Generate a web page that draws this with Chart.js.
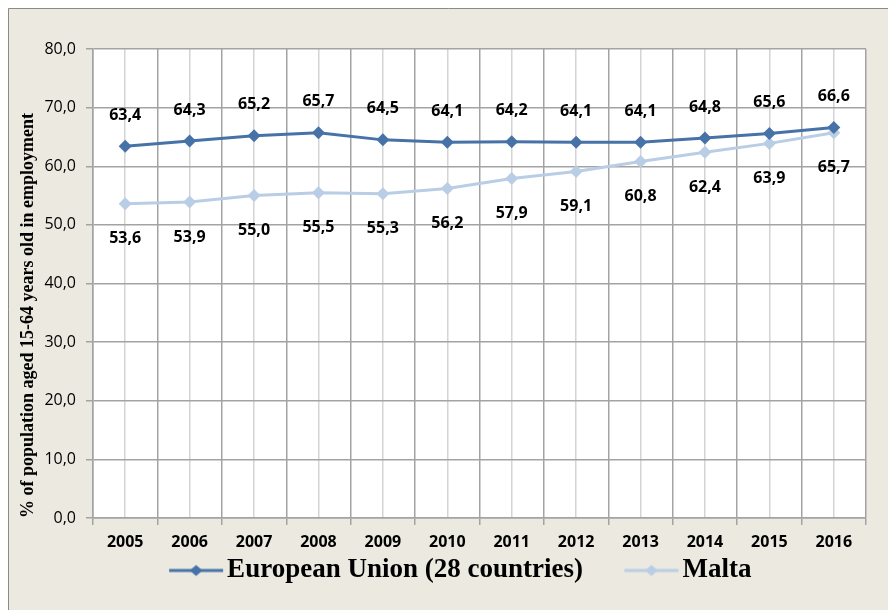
<!DOCTYPE html>
<html>
<head>
<meta charset="utf-8">
<script src="https://cdn.jsdelivr.net/npm/chart.js@4.4.0/dist/chart.umd.min.js"></script>
<style>
  html, body { margin: 0; padding: 0; background: #fff; }
  #wrap { width: 888px; height: 610px; }
</style>
</head>
<body>
<div id="wrap"><canvas id="chart" width="888" height="610"></canvas></div>
<script>
// data
const YEARS = ["2005", "2006", "2007", "2008", "2009", "2010", "2011", "2012", "2013", "2014", "2015", "2016"];
const EU_VALUES = [63.4, 64.3, 65.2, 65.7, 64.5, 64.1, 64.2, 64.1, 64.1, 64.8, 65.6, 66.6];
const MALTA_VALUES = [53.6, 53.9, 55.0, 55.5, 55.3, 56.2, 57.9, 59.1, 60.8, 62.4, 63.9, 65.7];
const Y_MIN = 0;
const Y_MAX = 80;
const Y_STEP = 10;

const EU_COLOR = "#4672A8";
const MALTA_COLOR = "#B9CDE5";
const GRID_DARK = "#a3a3a3";
const GRID_LIGHT = "#d4d4d4";

const fmt = (v) => v.toFixed(1).replace(".", ",");

// legend marker: line with a diamond, drawn in the right part of a wide canvas
// so the gap between legend items looks like Excel's
const makeMarker = (color) => {
  const c = document.createElement("canvas");
  c.width = 102;
  c.height = 16;
  const g = c.getContext("2d");
  g.strokeStyle = color;
  g.lineWidth = 3;
  g.beginPath();
  g.moveTo(47, 8);
  g.lineTo(101, 8);
  g.stroke();
  g.fillStyle = color;
  g.beginPath();
  g.moveTo(74 - 6.5, 8);
  g.lineTo(74, 2.5);
  g.lineTo(74 + 6.5, 8);
  g.lineTo(74, 13.5);
  g.closePath();
  g.fill();
  return c;
};
const MARKERS = [makeMarker(EU_COLOR), makeMarker(MALTA_COLOR)];

const backgroundPlugin = {
  id: "background",
  beforeDraw(chart) {
    const { ctx, chartArea } = chart;
    ctx.save();
    ctx.fillStyle = "#ffffff";
    ctx.fillRect(0, 0, chart.width, chart.height);
    ctx.fillStyle = "#ECE9E0";
    ctx.fillRect(8, 8, chart.width - 8, chart.height - 8);
    ctx.strokeStyle = "#8a8a8a";
    ctx.lineWidth = 1;
    ctx.beginPath();
    ctx.moveTo(8.5, chart.height);
    ctx.lineTo(8.5, 8.5);
    ctx.lineTo(chart.width, 8.5);
    ctx.stroke();
    ctx.fillStyle = "#ffffff";
    ctx.fillRect(chartArea.left, chartArea.top, chartArea.right - chartArea.left, chartArea.bottom - chartArea.top);
    ctx.restore();
  },
};

// value labels: EU above the points, Malta below
const valueLabels = {
  id: "valueLabels",
  afterDatasetsDraw(chart) {
    const { ctx } = chart;
    ctx.save();
    ctx.font = "bold 16px 'Open Sans'";
    ctx.fillStyle = "#000";
    ctx.textAlign = "center";
    ctx.textBaseline = "middle";
    chart.data.datasets.forEach((ds, di) => {
      const meta = chart.getDatasetMeta(di);
      meta.data.forEach((pt, i) => {
        const dy = di === 0 ? -31 : 35;
        ctx.fillText(fmt(ds.data[i]), pt.x, pt.y + dy);
      });
    });
    ctx.restore();
  },
};

new Chart(document.getElementById("chart"), {
  type: "line",
  data: {
    labels: YEARS,
    datasets: [
      {
        label: "European Union (28 countries)",
        data: EU_VALUES,
        borderColor: EU_COLOR,
        backgroundColor: EU_COLOR,
        borderWidth: 3,
        pointStyle: "rectRot",
        pointRadius: 6.5,
        pointBorderWidth: 0,
        tension: 0,
      },
      {
        label: "Malta",
        data: MALTA_VALUES,
        borderColor: MALTA_COLOR,
        backgroundColor: MALTA_COLOR,
        borderWidth: 3,
        pointStyle: "rectRot",
        pointRadius: 6.5,
        pointBorderWidth: 0,
        tension: 0,
      },
    ],
  },
  options: {
    responsive: false,
    animation: false,
    devicePixelRatio: 1,
    layout: { padding: { left: 18, right: 22, top: 49, bottom: 16 } },
    plugins: {
      tooltip: { enabled: false },
      legend: {
        position: "bottom",
        labels: {
          usePointStyle: true,
          pointStyleWidth: 81,
          padding: 5,
          color: "#000",
          font: { family: "'Liberation Serif'", weight: "bold", size: 27 },
          generateLabels(chart) {
            const items = Chart.defaults.plugins.legend.labels.generateLabels(chart);
            items.forEach((it, i) => { it.pointStyle = MARKERS[i]; });
            return items;
          },
        },
      },
    },
    scales: {
      x: {
        type: "category",
        offset: true,
        grid: { offset: true, color: GRID_DARK, lineWidth: 1.5, tickLength: 7 },
        border: { color: GRID_DARK, width: 1.5 },
        ticks: {
          color: "#000",
          padding: 8,
          font: { family: "'Open Sans'", weight: "bold", size: 16 },
          maxRotation: 0,
        },
        afterFit(scale) { scale.height = 34; },
      },
      x2: {
        type: "category",
        position: "bottom",
        offset: true,
        grid: { offset: false, color: GRID_LIGHT, lineWidth: 1.5, drawTicks: false },
        border: { display: false },
        ticks: { display: false },
        afterFit(scale) { scale.height = 0; },
      },
      y: {
        min: Y_MIN,
        max: Y_MAX,
        ticks: {
          stepSize: Y_STEP,
          color: "#000",
          padding: 10,
          font: { family: "'Open Sans'", size: 16 },
          callback: (v) => fmt(v),
        },
        grid: { color: GRID_DARK, lineWidth: 1.5, tickLength: 7 },
        border: { color: GRID_DARK, width: 1.5 },
        title: {
          display: true,
          text: "% of population aged 15-64 years old in employment",
          align: "start",
          color: "#000",
          padding: 0,
          font: { family: "'Liberation Serif'", weight: "bold", size: 18 },
        },
        afterFit(scale) { scale.width = 75; },
      },
    },
  },
  plugins: [backgroundPlugin, valueLabels],
});
</script>
</body>
</html>
